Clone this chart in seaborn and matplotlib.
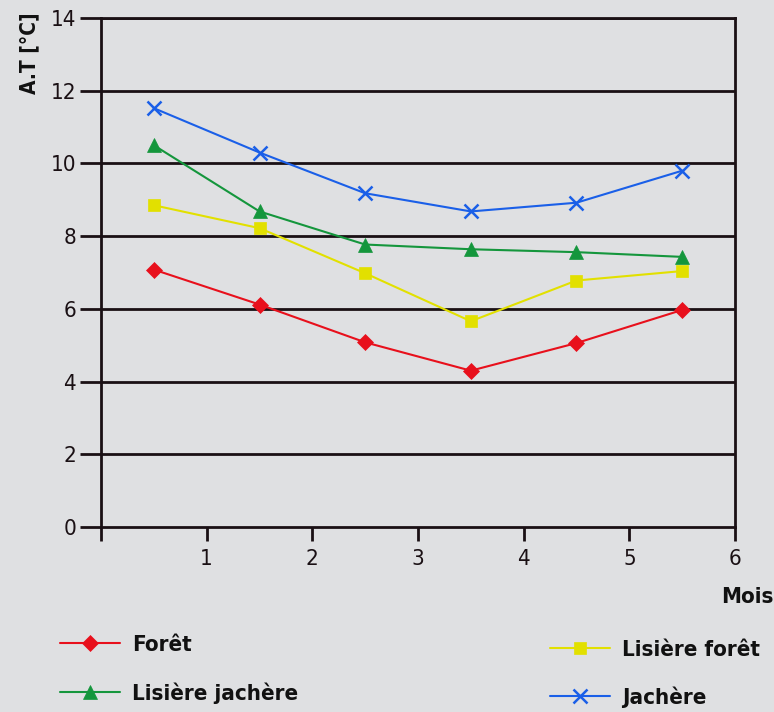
import matplotlib
matplotlib.use("Agg")
import matplotlib.pyplot as plt
import seaborn as sns
import pandas as pd

mois = [0.5, 1.5, 2.5, 3.5, 4.5, 5.5]
foret = [7.08, 6.12, 5.08, 4.3, 5.06, 5.97]
lisiere_foret = [8.85, 8.22, 6.98, 5.66, 6.78, 7.04]
lisiere_jachere = [10.5, 8.68, 7.77, 7.64, 7.56, 7.43]
jachere = [11.52, 10.3, 9.18, 8.68, 8.92, 9.8]
series_names = ["Forêt", "Lisière forêt", "Lisière jachère", "Jachère"]
y_ticks = [0, 2, 4, 6, 8, 10, 12, 14]
x_ticks = [0, 1, 2, 3, 4, 5, 6]
x_labels = ["", "1", "2", "3", "4", "5", "6"]

sns.set_style("white")
plt.rcParams["font.family"] = ["DejaVu Sans"]
plt.rcParams["font.stretch"] = "condensed"

bg = "#dfe0e2"
ink = "#1a1014"
fig = plt.figure(figsize=(7.74, 7.12), dpi=100, facecolor=bg)
ax = fig.add_axes([0.1305, 0.2598, 0.8191, 0.7149], facecolor=bg)

styles = [
    (foret, "#e8101c", "D", 8.5),
    (lisiere_foret, "#e2e000", "s", 9),
    (lisiere_jachere, "#14963c", "^", 10.5),
    (jachere, "#1a5fe8", "x", 9.5),
]
handles = {}
for name, (vals, col, mk, ms) in zip(series_names, styles):
    df = pd.DataFrame({"x": mois, "y": vals})
    sns.lineplot(data=df, x="x", y="y", ax=ax, color=col, marker=mk,
                 markersize=ms, markeredgecolor=col,
                 markeredgewidth=1.8 if mk == "x" else 0.5,
                 linewidth=1.5, label=name, legend=False)
    handles[name] = ax.lines[-1]

ax.set_xlim(0, 6)
ax.set_ylim(0, 14)
ax.set_yticks(y_ticks)
ax.set_xticks(x_ticks)
ax.set_xticklabels(x_labels)
ax.set_xlabel("")
ax.set_ylabel("")
for yv in y_ticks[1:]:
    ax.axhline(yv, color=ink, lw=2, zorder=0.5)
for s in ["left", "right", "bottom", "top"]:
    ax.spines[s].set_visible(True)
    ax.spines[s].set_color(ink)
    ax.spines[s].set_linewidth(2)
ax.tick_params(axis="y", direction="out", length=15, width=2, color=ink,
               labelsize=16, pad=3, labelcolor=ink)
ax.tick_params(axis="x", direction="out", length=10, width=2, color=ink,
               labelsize=16, pad=6, labelcolor=ink)
ax.tick_params(left=True, bottom=True)

fig.text(0.038, 0.925, "A.T [°C]", rotation=90, ha="center", va="center",
         fontsize=15, fontweight="bold", color="#111111")
fig.text(0.999, 0.161, "Mois", ha="right", va="center",
         fontsize=16, fontweight="bold", color="#111111")

leg_kw = dict(frameon=False, prop={"size": 16, "weight": "bold", "stretch": "condensed"},
              handlelength=2.7, handletextpad=0.55, borderaxespad=0, borderpad=0,
              loc="center left")
positions = {
    "Forêt": (60, 645),
    "Lisière jachère": (60, 693),
    "Lisière forêt": (550, 650),
    "Jachère": (550, 697),
}
for name, (px, py) in positions.items():
    leg = fig.legend([handles[name]], [name], bbox_to_anchor=(px / 774, 1 - py / 712), **leg_kw)
    for t in leg.get_texts():
        t.set_color("#111111")

fig.savefig("out.png", dpi=100, facecolor=bg)
